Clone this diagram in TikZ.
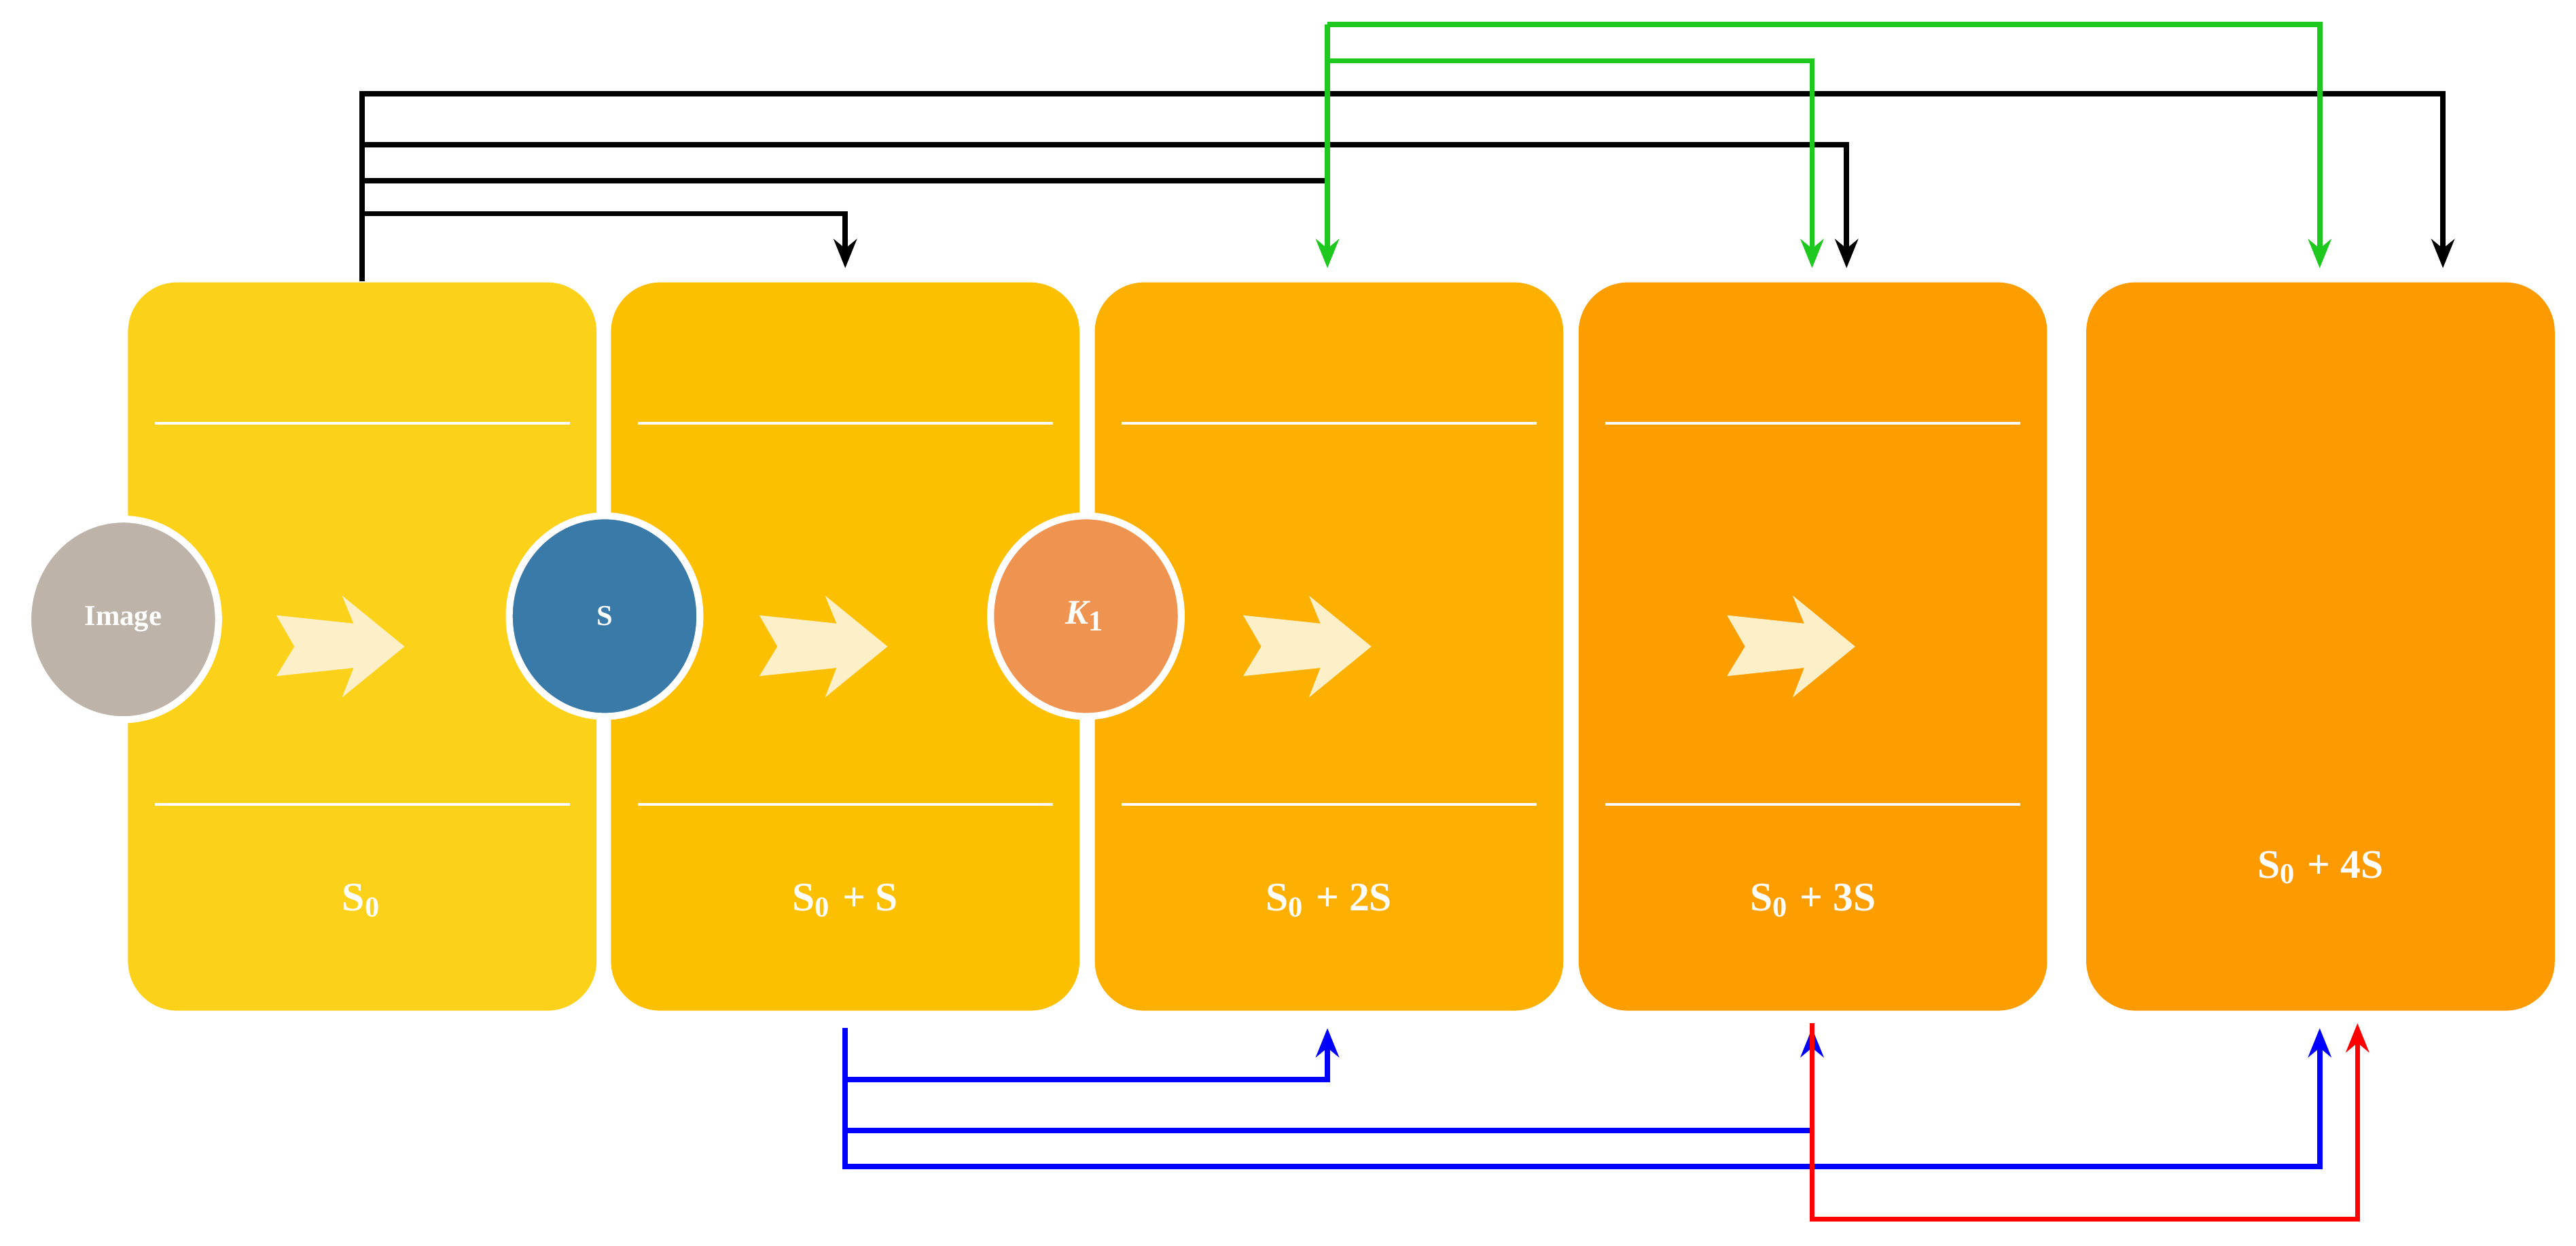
\documentclass[tikz,border=0pt]{standalone}
\usepackage{fontspec}
\setmainfont{Liberation Serif}
\usetikzlibrary{arrows.meta, positioning, calc, shapes.geometric}

\definecolor{stageA}{HTML}{FCD11A}
\definecolor{stageB}{HTML}{FDC000}
\definecolor{stageC}{HTML}{FDB000}
\definecolor{stageD}{HTML}{FD9E00}
\definecolor{stageE}{HTML}{FD9A00}
\definecolor{chev}{HTML}{FDF0C8}
\definecolor{imggray}{HTML}{BDB3A8}
\definecolor{sblue}{HTML}{3A7AA8}
\definecolor{korange}{HTML}{EE9450}
\definecolor{ggreen}{HTML}{1EC81E}

\begin{document}
\begin{tikzpicture}[
    x=0.01cm, y=-0.01cm,
    stage/.style={rectangle, rounded corners=0.3cm, minimum width=2.85cm, minimum height=4.43cm, inner sep=0pt},
    op/.style={ellipse, draw=white, line width=1.2pt, minimum width=1.16cm, minimum height=1.22cm, inner sep=0pt, text=white, font=\bfseries\fontsize{5}{6}\selectfont},
    lbl/.style={text=white, font=\bfseries\fontsize{7}{8}\selectfont},
    link/.style={-{Stealth[length=5pt,width=4pt]}, line width=0.9pt},
    sep/.style={white, line width=0.5pt}
]
\useasboundingbox (0,0) rectangle (1568,758);

% Stages
\node[stage, fill=stageA] (b0) at (220.5,393.5) {};
\node[stage, fill=stageB] (b1) at (514.5,393.5) {};
\node[stage, fill=stageC] (b2) at (809,393.5) {};
\node[stage, fill=stageD] (b3) at (1103.5,393.5) {};
\node[stage, fill=stageE] (b4) at (1412.5,393.5) {};

% Separators and chevrons
\foreach \b in {b0,b1,b2,b3} {
  \draw[sep] ($(\b.west)+(17,-136)$) -- ($(\b.east)+(-17,-136)$);
  \draw[sep] ($(\b.west)+(17,96)$) -- ($(\b.east)+(-17,96)$);
  \fill[chev] ($(\b.west)+(91,-19)$) -- ($(\b.west)+(138,-14)$) -- ($(\b.west)+(131,-31)$)
    -- ($(\b.west)+(169,0)$) -- ($(\b.west)+(131,31)$) -- ($(\b.west)+(138,13)$)
    -- ($(\b.west)+(91,18)$) -- ($(\b.west)+(102,0)$) -- cycle;
}

% Labels
\node[lbl] (l0) at (220.5,548) {S$_\mathbf{0}$};
\node[lbl] (l1) at (514.5,548) {S$_\mathbf{0}$ + S};
\node[lbl] (l2) at (809,548) {S$_\mathbf{0}$ + 2S};
\node[lbl] (l3) at (1103.5,548) {S$_\mathbf{0}$ + 3S};
\node[lbl] (l4) at (1412.5,528) {S$_\mathbf{0}$ + 4S};

% Operators
\node[op, fill=imggray] (img) at (75,377) {Image};
\node[op, fill=sblue] (s) at (368,375) {S};
\node[op, fill=korange, font=\bfseries\itshape\fontsize{6}{7}\selectfont] (k) at (661,375) {K$_\mathbf{1}$};

% Black skip links
\coordinate (t57) at (220.5,57);
\draw[link] (b0.north) -- (t57) -| ($(b4.north)+(74.5,-8)$);
\draw[link] (220.5,88) -| ($(b3.north)+(20.5,-8)$);
\draw[line width=0.9pt] (220.5,110) -- (808,110);
\draw[link] (220.5,130) -| ($(b1.north)+(0,-8)$);

% Green links
\coordinate (g15) at (808,15);
\draw[link, ggreen] (g15) -- ($(b2.north)+(-1,-8)$);
\draw[link, ggreen] (g15) -| ($(b4.north)+(-0.5,-8)$);
\draw[link, ggreen] (808,37) -| ($(b3.north)+(-0.5,-8)$);

% Blue links
\coordinate (u710) at (514.5,710);
\draw[link, blue] ($(b1.south)+(0,10)$) -- (u710) -| ($(b4.south)+(-0.5,10)$);
\draw[link, blue] (514.5,657) -| ($(b2.south)+(-1,10)$);
\draw[link, blue] (514.5,688) -| ($(b3.south)+(-0.5,10)$);

% Red link
\draw[link, red] ($(b3.south)+(-0.5,7)$) |- (1268,742) -| ($(b4.south)+(22.5,7)$);

\end{tikzpicture}
\end{document}
